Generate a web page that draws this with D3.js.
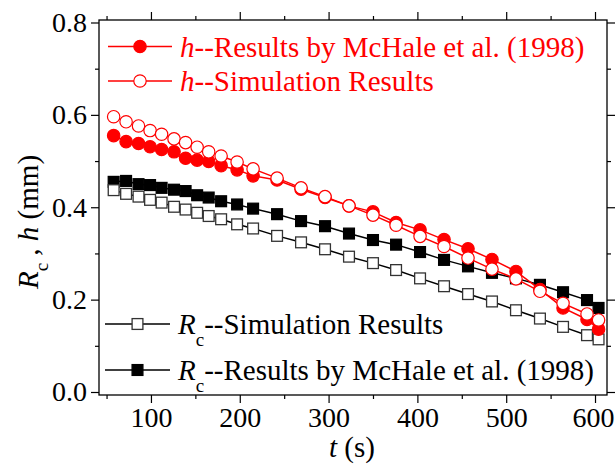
<!DOCTYPE html>
<html>
<head>
<meta charset="utf-8">
<script src="https://cdn.jsdelivr.net/npm/d3@7"></script>
<style>
  body { margin: 0; background: #fff; }
  svg { display: block; font-family: "Liberation Serif", "Times New Roman", serif; }
</style>
</head>
<body>
<svg id="chart"></svg>
<script>
// temps (s), communs aux quatre séries
var times = [58, 72, 86, 99, 112, 126, 139, 152, 165, 179, 197, 215, 242, 269, 296,
             323, 350, 376, 403, 430, 457, 484, 511, 538, 564, 591, 604];

// h et Rc (mm)
var hMcHale = [0.555, 0.542, 0.538, 0.531, 0.525, 0.520, 0.506, 0.502, 0.499, 0.490, 0.481,
               0.468, 0.459, 0.439, 0.421, 0.403, 0.390, 0.367, 0.351, 0.330, 0.310, 0.287,
               0.261, 0.222, 0.182, 0.157, 0.136];
var hSim = [0.596, 0.585, 0.576, 0.566, 0.558, 0.548, 0.540, 0.530, 0.520, 0.511, 0.498,
            0.483, 0.463, 0.442, 0.423, 0.403, 0.383, 0.361, 0.337, 0.315, 0.290, 0.266,
            0.245, 0.218, 0.192, 0.169, 0.156];
var rcMcHale = [0.455, 0.457, 0.450, 0.448, 0.442, 0.438, 0.435, 0.426, 0.421, 0.413, 0.406,
                0.397, 0.385, 0.370, 0.359, 0.343, 0.329, 0.319, 0.303, 0.286, 0.272, 0.258,
                0.246, 0.232, 0.216, 0.199, 0.182];
var rcSim = [0.437, 0.429, 0.423, 0.416, 0.410, 0.401, 0.395, 0.388, 0.381, 0.374, 0.363,
             0.354, 0.338, 0.324, 0.309, 0.293, 0.279, 0.264, 0.246, 0.229, 0.212, 0.196,
             0.177, 0.159, 0.141, 0.123, 0.114];

var xTicks = [100, 200, 300, 400, 500, 600];
var yTicks = [0.0, 0.2, 0.4, 0.6, 0.8];
var xMinor = [50, 150, 250, 350, 450, 550];
var yMinor = [0.1, 0.3, 0.5, 0.7];

//taille du cadre
var width = 615, height = 464;
var mLeft = 99, mRight = 607, mTop = 20, mBottom = 395;
var fs = 29, fsTick = 28;

var svg = d3.select("#chart").attr("width", width).attr("height", height);

var x = d3.scaleLinear().domain([41.5, 613.5]).range([mLeft, mRight]);
var y = d3.scaleLinear().domain([-0.0065, 0.8054]).range([mBottom, mTop]);

// séries : ordre de dessin (noir d'abord, rouge ensuite)
var series = [
  {vals: rcMcHale, color: "#000", shape: "square", filled: true},
  {vals: rcSim, color: "#000", shape: "square", filled: false},
  {vals: hMcHale, color: "#f00", shape: "circle", filled: true},
  {vals: hSim, color: "#f00", shape: "circle", filled: false}
];

// -- axes --
function axisTicks(g, scale, major, minor, orient, fmt) {
  var a = orient(scale).tickValues(major).tickSizeOuter(0).tickSizeInner(8).tickPadding(4);
  if (fmt) a.tickFormat(fmt); else a.tickFormat("");
  g.call(a);
  var m = orient(scale).tickValues(minor).tickSizeOuter(0).tickSizeInner(4).tickFormat("");
  g.append("g").call(m);
  g.selectAll(".domain").remove();
  g.selectAll("line").attr("stroke", "#000").attr("stroke-width", 1.2);
  g.selectAll("text").attr("font-size", fsTick).attr("fill", "#000").attr("font-family", "Liberation Serif");
}

var gx = svg.append("g").attr("transform", "translate(0," + mBottom + ")");
axisTicks(gx, x, xTicks, xMinor, d3.axisBottom, d3.format("d"));
// le dernier libellé touche le bord droit
gx.selectAll(".tick text").filter(function (d) { return d === 600; }).attr("dx", -2);

var gy = svg.append("g").attr("transform", "translate(" + mLeft + ",0)");
axisTicks(gy, y, yTicks, yMinor, d3.axisLeft, d3.format(".1f"));

var gt = svg.append("g").attr("transform", "translate(0," + mTop + ")");
axisTicks(gt, x, xTicks, xMinor, d3.axisTop, null);

var gr = svg.append("g").attr("transform", "translate(" + mRight + ",0)");
axisTicks(gr, y, yTicks, yMinor, d3.axisRight, null);

// cadre
svg.append("rect").attr("x", mLeft).attr("y", mTop)
  .attr("width", mRight - mLeft).attr("height", mBottom - mTop)
  .attr("fill", "none").attr("stroke", "#000").attr("stroke-width", 1.3);

// -- courbes --
var line = d3.line().x(function (d) { return x(d[0]); }).y(function (d) { return y(d[1]); });

function marker(g, shape, filled, color) {
  if (shape === "circle") {
    g.append("circle").attr("r", 6.2)
      .attr("fill", filled ? color : "#fff").attr("stroke", color).attr("stroke-width", 1.2);
  } else {
    g.append("rect").attr("x", -5.4).attr("y", -5.4).attr("width", 10.8).attr("height", 10.8)
      .attr("fill", filled ? color : "#fff").attr("stroke", filled ? color : "#333").attr("stroke-width", 1.3);
  }
}

series.forEach(function (s) {
  var pts = times.map(function (t, i) { return [t, s.vals[i]]; });
  svg.append("path").attr("d", line(pts)).attr("fill", "none")
    .attr("stroke", s.color).attr("stroke-width", 1.5);
  var g = svg.append("g");
  pts.forEach(function (p) {
    var m = g.append("g").attr("transform", "translate(" + x(p[0]) + "," + y(p[1]) + ")");
    marker(m, s.shape, s.filled, s.color);
  });
});

// -- légendes --
var legends = [
  {y: 46.5, x0: 108, x1: 172, color: "#f00", shape: "circle", filled: true, sym: "h", sub: "", label: "--Results by McHale et al. (1998)"},
  {y: 81, x0: 108, x1: 172, color: "#f00", shape: "circle", filled: false, sym: "h", sub: "", label: "--Simulation Results"},
  {y: 324, x0: 105, x1: 170, color: "#000", shape: "square", filled: false, sym: "R", sub: "c", label: "--Simulation Results"},
  {y: 370, x0: 105, x1: 170, color: "#000", shape: "square", filled: true, sym: "R", sub: "c", label: "--Results by McHale et al. (1998)"}
];

legends.forEach(function (l) {
  svg.append("line").attr("x1", l.x0).attr("x2", l.x1).attr("y1", l.y).attr("y2", l.y)
    .attr("stroke", l.color).attr("stroke-width", 1.5);
  var m = svg.append("g").attr("transform", "translate(" + (l.x0 + l.x1) / 2 + "," + l.y + ")");
  marker(m, l.shape, l.filled, l.color);
  var t = svg.append("text").attr("x", l.x1 + 8).attr("y", l.y + 10)
    .attr("font-size", fs).attr("fill", l.color);
  t.append("tspan").attr("font-style", "italic").text(l.sym);
  if (l.sub) {
    t.append("tspan").attr("font-size", 19).attr("dy", 12).text(l.sub);
    t.append("tspan").attr("dy", -12).text(l.label);
  } else {
    t.append("tspan").text(l.label);
  }
});

// -- titres des axes --
var xl = svg.append("text").attr("x", 352).attr("y", 457)
  .attr("text-anchor", "middle").attr("font-size", fs);
xl.append("tspan").attr("font-style", "italic").text("t");
xl.append("tspan").text(" (s)");

var yl = svg.append("text").attr("transform", "translate(38,222) rotate(-90)")
  .attr("text-anchor", "middle").attr("font-size", fs);
yl.append("tspan").attr("font-style", "italic").text("R");
yl.append("tspan").attr("font-size", 19).attr("dy", 10).text("c");
yl.append("tspan").attr("dy", -10).text(" , ");
yl.append("tspan").attr("font-style", "italic").text("h");
yl.append("tspan").text(" (mm)");
</script>
</body>
</html>
